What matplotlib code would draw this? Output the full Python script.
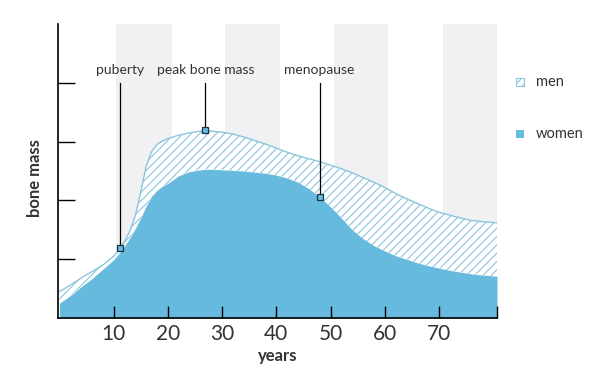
import matplotlib
matplotlib.use("Agg")
import matplotlib.pyplot as plt
from matplotlib.patches import Rectangle

plt.rcParams['font.family'] = ['Lato', 'DejaVu Sans']
plt.rcParams['hatch.linewidth'] = 0.8

# data (age in years, bone mass in axis units)
ages = [0, 2, 4, 6, 8, 10, 11, 12, 13, 14, 15, 16, 17, 18, 19, 20, 22, 24, 26, 27, 28,
        30, 32, 34, 36, 38, 40, 42, 44, 46, 48, 50, 52, 54, 56, 58, 60, 62, 64, 66,
        68, 70, 72, 74, 76, 78, 80.7]
men = [0.45, 0.56, 0.68, 0.79, 0.90, 1.05, 1.16, 1.30, 1.48, 1.74, 2.14, 2.58, 2.83,
       2.95, 3.01, 3.05, 3.11, 3.15, 3.18, 3.19, 3.18, 3.16, 3.13, 3.08, 3.02, 2.96,
       2.89, 2.82, 2.76, 2.71, 2.66, 2.60, 2.54, 2.47, 2.39, 2.31, 2.22, 2.12, 2.03,
       1.95, 1.87, 1.80, 1.75, 1.70, 1.66, 1.64, 1.62]
women = [0.25, 0.38, 0.53, 0.67, 0.83, 0.99, 1.10, 1.22, 1.36, 1.52, 1.70, 1.90, 2.07,
         2.17, 2.24, 2.29, 2.42, 2.49, 2.52, 2.53, 2.53, 2.52, 2.51, 2.50, 2.48, 2.46,
         2.43, 2.38, 2.31, 2.20, 2.06, 1.89, 1.70, 1.50, 1.35, 1.23, 1.14, 1.06, 1.00,
         0.94, 0.89, 0.85, 0.81, 0.78, 0.75, 0.73, 0.71]

events = ['puberty', 'peak bone mass', 'menopause']
event_age = [11.2, 26.9, 48.0]
event_val = [1.19, 3.19, 2.06]

bands = [(10.5, 20.7), (30.6, 40.7), (50.6, 60.6), (70.7, 80.7)]
xticks = [10, 20, 30, 40, 50, 60, 70]

blue = '#66bade'
hatch_col = '#8cc5dc'
txt = '#333333'

fig = plt.figure(figsize=(5.98, 3.8), dpi=100)
ax = fig.add_axes([0.0975, 0.163, 0.7336, 0.7737])

for a, b in bands:
    ax.axvspan(a, b, ymin=0, ymax=1, color='#f1f1f3', lw=0, zorder=0)

ax.fill_between(ages, women, men, facecolor='white', edgecolor=hatch_col,
                hatch='////', linewidth=0, zorder=1)
ax.plot(ages, men, color=hatch_col, lw=1, zorder=1.2)
ax.fill_between(ages, 0, women, color=blue, lw=0, zorder=1.5)

for name, a, v in zip(events, event_age, event_val):
    ax.plot([a, a], [v, 4.0], color='black', lw=0.9, zorder=4)
    ax.plot(a, v, marker='s', ms=5, mfc=blue, mec='#1a3340', mew=0.9, zorder=5)
    ax.text(a, 4.22, name, ha='center', va='center', fontsize=10, color=txt)

ax.set_xlim(-0.2, 80.7)
ax.set_ylim(0, 5)
ax.set_xticks(xticks + [80.7])
ax.set_xticklabels([str(t) for t in xticks] + [''])
ax.set_yticks([1, 2, 3, 4])
ax.set_yticklabels([])
ax.tick_params(axis='x', direction='in', length=9, width=1, pad=4,
               labelsize=15, labelcolor=txt)
ax.tick_params(axis='y', direction='in', length=12, width=1)
for s in ['top', 'right']:
    ax.spines[s].set_visible(False)
for s in ['left', 'bottom']:
    ax.spines[s].set_linewidth(1.2)

ax.set_xlabel('years', fontsize=12, fontweight='bold', color=txt, labelpad=3)
fig.text(0.0585, 0.532, 'bone mass', rotation=90, ha='center', va='center',
         fontsize=12, fontweight='bold', color=txt)

# legend
fig.add_artist(Rectangle((0.863, 0.7745), 0.0134, 0.021, transform=fig.transFigure,
                         facecolor='white', edgecolor=hatch_col, hatch='////', lw=0.8))
fig.text(0.896, 0.785, 'men', ha='left', va='center', fontsize=10.5, color=txt)
fig.add_artist(Rectangle((0.863, 0.637), 0.0134, 0.021, transform=fig.transFigure,
                         facecolor=blue, edgecolor='none'))
fig.text(0.896, 0.647, 'women', ha='left', va='center', fontsize=10.5, color=txt)

fig.savefig('out.png', dpi=100)
